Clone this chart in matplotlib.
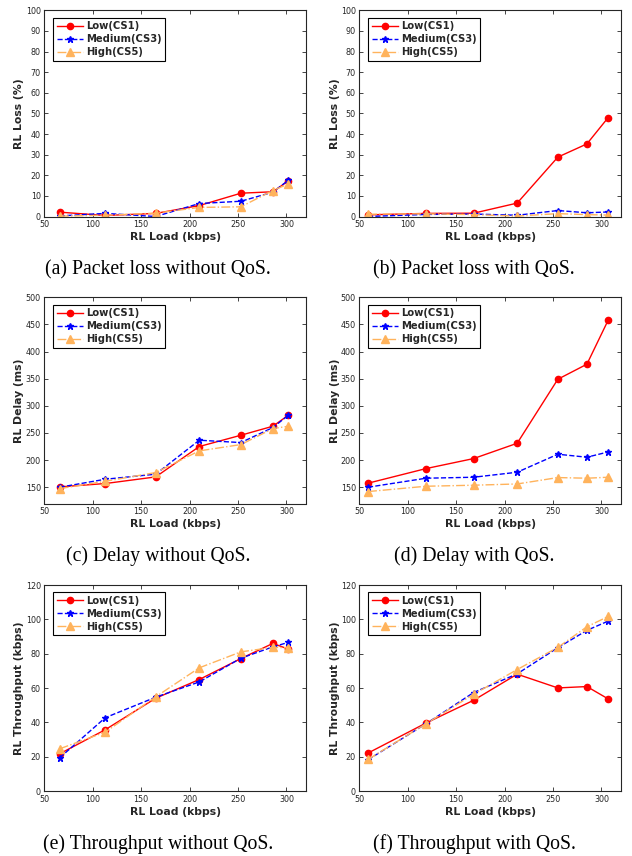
import matplotlib
matplotlib.use("Agg")
import matplotlib.pyplot as plt

# ---------------- data ----------------
series_names = ["Low(CS1)", "Medium(CS3)", "High(CS5)"]

x_noqos = [66, 113, 165, 210, 253, 286, 302]
x_qos = [59, 119, 168, 213, 255, 285, 307]

loss_noqos_low = [2.1, 0.5, 1.5, 5.3, 11.3, 12.0, 17.3]
loss_noqos_med = [0.3, 1.5, 0.0, 6.3, 7.4, 11.8, 17.6]
loss_noqos_high = [0.2, 0.6, 1.6, 4.4, 4.7, 12.6, 15.8]

loss_qos_low = [0.8, 1.5, 1.6, 6.5, 28.8, 35.2, 48.0]
loss_qos_med = [0.0, 1.0, 1.2, 0.6, 2.9, 1.8, 2.2]
loss_qos_high = [1.1, 1.3, 0.9, 0.2, 1.4, 0.9, 0.7]

delay_noqos_low = [150.6, 156.8, 169.0, 225.0, 245.8, 262.4, 282.7]
delay_noqos_med = [150.0, 164.7, 174.0, 236.6, 232.3, 260.0, 282.7]
delay_noqos_high = [147.5, 161.0, 177.0, 217.0, 228.6, 258.0, 262.4]

delay_qos_low = [157.4, 184.4, 202.8, 231.0, 349.0, 376.7, 458.0]
delay_qos_med = [150.0, 166.6, 168.4, 177.6, 210.8, 205.3, 215.0]
delay_qos_high = [142.0, 151.8, 153.7, 156.0, 167.8, 166.6, 168.4]

thr_noqos_low = [21.8, 35.8, 54.1, 65.0, 77.2, 86.0, 82.7]
thr_noqos_med = [19.5, 42.8, 54.7, 63.6, 77.4, 84.0, 86.6]
thr_noqos_high = [24.7, 34.4, 54.9, 71.8, 81.1, 83.7, 83.5]

thr_qos_low = [22.2, 39.7, 52.9, 68.1, 60.1, 60.9, 53.7]
thr_qos_med = [18.3, 39.3, 57.4, 68.3, 83.5, 93.6, 99.0]
thr_qos_high = [18.5, 39.3, 56.4, 70.8, 83.7, 95.7, 101.7]

xticks = [50, 100, 150, 200, 250, 300]
xlabel = "RL Load (kbps)"
ylabels = ["RL Loss (%)", "RL Delay (ms)", "RL Throughput (kbps)"]
captions = [
    "(a) Packet loss without QoS.", "(b) Packet loss with QoS.",
    "(c) Delay without QoS.", "(d) Delay with QoS.",
    "(e) Throughput without QoS.", "(f) Throughput with QoS.",
]

# ---------------- styling ----------------
W, H = 632, 856
fig = plt.figure(figsize=(W / 100, H / 100), dpi=100)

styles = [
    dict(color="#FF0000", linestyle="-", marker="o", markersize=4.5, linewidth=1.0),
    dict(color="#0000FF", linestyle="--", marker="*", markersize=4.5, linewidth=1.0),
    dict(color="#FFB35C", linestyle="-.", marker="^", markersize=5.5, linewidth=1.0),
]

col_left = [44.3, 359.3]
col_w = 261.5
row_top = [10.3, 297.3, 585.0]
row_h = 206.2

panels = [
    (x_noqos, [loss_noqos_low, loss_noqos_med, loss_noqos_high], (0, 100), list(range(0, 101, 10))),
    (x_qos, [loss_qos_low, loss_qos_med, loss_qos_high], (0, 100), list(range(0, 101, 10))),
    (x_noqos, [delay_noqos_low, delay_noqos_med, delay_noqos_high], (120, 500), list(range(150, 501, 50))),
    (x_qos, [delay_qos_low, delay_qos_med, delay_qos_high], (120, 500), list(range(150, 501, 50))),
    (x_noqos, [thr_noqos_low, thr_noqos_med, thr_noqos_high], (0, 120), list(range(0, 121, 20))),
    (x_qos, [thr_qos_low, thr_qos_med, thr_qos_high], (0, 120), list(range(0, 121, 20))),
]

tick_color = "#262626"
for i, (xs, ys_list, ylim, yticks) in enumerate(panels):
    r, c = divmod(i, 2)
    left = col_left[c] / W
    bottom = 1 - (row_top[r] + row_h) / H
    ax = fig.add_axes([left, bottom, col_w / W, row_h / H])
    for ys, name, st in zip(ys_list, series_names, styles):
        ax.plot(xs, ys, label=name, **st)
    ax.set_xlim(50, 320)
    ax.set_ylim(*ylim)
    ax.set_xticks(xticks)
    ax.set_yticks(yticks)
    ax.tick_params(direction="in", top=True, right=True, length=3, width=0.6,
                   labelsize=5.8, colors=tick_color, pad=2.5)
    for sp in ax.spines.values():
        sp.set_linewidth(0.8)
        sp.set_color(tick_color)
    ax.set_xlabel(xlabel, fontsize=7.8, fontweight="bold", color=tick_color)
    ax.set_ylabel(ylabels[r], fontsize=7.8, fontweight="bold", color=tick_color)
    ax.xaxis.set_label_coords(0.5, -(232 - 216.7) / row_h)
    ax.yaxis.set_label_coords(-(44.3 - 24.5) / col_w, 0.5)
    leg = ax.legend(loc="upper left", bbox_to_anchor=(0.034, 0.964), borderaxespad=0,
                    fancybox=False, edgecolor="black", framealpha=1,
                    prop=dict(size=7.2, weight="bold"), handlelength=2.6,
                    labelspacing=0.3, borderpad=0.35, handletextpad=0.3)
    leg.get_frame().set_linewidth(0.8)
    for t in leg.get_texts():
        t.set_color(tick_color)
    # caption
    cx = (c * 316 + 158) / W
    cy = 1 - (row_top[r] + row_h + 57.5) / H
    fig.text(cx, cy, captions[i], ha="center", va="baseline",
             fontsize=14.2, family="Liberation Serif", color="black")

fig.savefig("out.png", dpi=100)
